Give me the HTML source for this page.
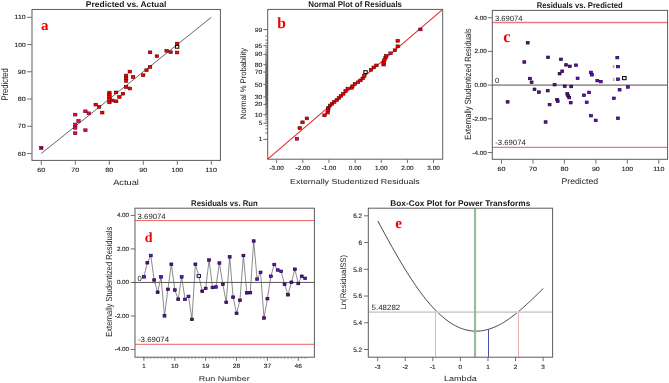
<!DOCTYPE html>
<html><head><meta charset="utf-8"><style>
html,body{margin:0;padding:0;background:#fff;}
svg{display:block;will-change:transform;}
svg{font-family:"Liberation Sans", sans-serif;}
</style></head><body>
<svg width="669" height="383" viewBox="0 0 669 383" text-rendering="geometricPrecision">
<rect width="669" height="383" fill="#fff"/>
<text x="126.10" y="7.00" font-size="8.2" text-anchor="middle" fill="#1a1a1a" font-weight="bold" textLength="80.5" lengthAdjust="spacingAndGlyphs">Predicted vs. Actual</text>
<rect x="32.00" y="9.45" width="188.40" height="150.95" fill="none" stroke="#5c5c5c" stroke-width="1"/>
<line x1="41.30" y1="160.40" x2="41.30" y2="164.80" stroke="#707070" stroke-width="1"/>
<text x="41.30" y="172.10" font-size="6.0" text-anchor="middle" fill="#1e1e1e" textLength="7.9" lengthAdjust="spacingAndGlyphs" stroke="#1e1e1e" stroke-width="0.12">60</text>
<line x1="27.20" y1="153.50" x2="32.00" y2="153.50" stroke="#707070" stroke-width="1"/>
<text x="25.60" y="155.60" font-size="6.0" text-anchor="end" fill="#1e1e1e" textLength="7.9" lengthAdjust="spacingAndGlyphs" stroke="#1e1e1e" stroke-width="0.12">60</text>
<line x1="75.30" y1="160.40" x2="75.30" y2="164.80" stroke="#707070" stroke-width="1"/>
<text x="75.30" y="172.10" font-size="6.0" text-anchor="middle" fill="#1e1e1e" textLength="7.9" lengthAdjust="spacingAndGlyphs" stroke="#1e1e1e" stroke-width="0.12">70</text>
<line x1="27.20" y1="126.26" x2="32.00" y2="126.26" stroke="#707070" stroke-width="1"/>
<text x="25.60" y="128.36" font-size="6.0" text-anchor="end" fill="#1e1e1e" textLength="7.9" lengthAdjust="spacingAndGlyphs" stroke="#1e1e1e" stroke-width="0.12">70</text>
<line x1="109.30" y1="160.40" x2="109.30" y2="164.80" stroke="#707070" stroke-width="1"/>
<text x="109.30" y="172.10" font-size="6.0" text-anchor="middle" fill="#1e1e1e" textLength="7.9" lengthAdjust="spacingAndGlyphs" stroke="#1e1e1e" stroke-width="0.12">80</text>
<line x1="27.20" y1="99.02" x2="32.00" y2="99.02" stroke="#707070" stroke-width="1"/>
<text x="25.60" y="101.12" font-size="6.0" text-anchor="end" fill="#1e1e1e" textLength="7.9" lengthAdjust="spacingAndGlyphs" stroke="#1e1e1e" stroke-width="0.12">80</text>
<line x1="143.30" y1="160.40" x2="143.30" y2="164.80" stroke="#707070" stroke-width="1"/>
<text x="143.30" y="172.10" font-size="6.0" text-anchor="middle" fill="#1e1e1e" textLength="7.9" lengthAdjust="spacingAndGlyphs" stroke="#1e1e1e" stroke-width="0.12">90</text>
<line x1="27.20" y1="71.78" x2="32.00" y2="71.78" stroke="#707070" stroke-width="1"/>
<text x="25.60" y="73.88" font-size="6.0" text-anchor="end" fill="#1e1e1e" textLength="7.9" lengthAdjust="spacingAndGlyphs" stroke="#1e1e1e" stroke-width="0.12">90</text>
<line x1="177.30" y1="160.40" x2="177.30" y2="164.80" stroke="#707070" stroke-width="1"/>
<text x="177.30" y="172.10" font-size="6.0" text-anchor="middle" fill="#1e1e1e" textLength="11.4" lengthAdjust="spacingAndGlyphs" stroke="#1e1e1e" stroke-width="0.12">100</text>
<line x1="27.20" y1="44.54" x2="32.00" y2="44.54" stroke="#707070" stroke-width="1"/>
<text x="25.60" y="46.64" font-size="6.0" text-anchor="end" fill="#1e1e1e" textLength="11.0" lengthAdjust="spacingAndGlyphs" stroke="#1e1e1e" stroke-width="0.12">100</text>
<line x1="211.30" y1="160.40" x2="211.30" y2="164.80" stroke="#707070" stroke-width="1"/>
<text x="211.30" y="172.10" font-size="6.0" text-anchor="middle" fill="#1e1e1e" textLength="11.4" lengthAdjust="spacingAndGlyphs" stroke="#1e1e1e" stroke-width="0.12">110</text>
<line x1="27.20" y1="17.30" x2="32.00" y2="17.30" stroke="#707070" stroke-width="1"/>
<text x="25.60" y="19.40" font-size="6.0" text-anchor="end" fill="#1e1e1e" textLength="11.0" lengthAdjust="spacingAndGlyphs" stroke="#1e1e1e" stroke-width="0.12">110</text>
<text x="126.05" y="185.00" font-size="7.8" text-anchor="middle" fill="#222" textLength="25.7" lengthAdjust="spacingAndGlyphs">Actual</text>
<text x="8.30" y="84.40" font-size="9.6" text-anchor="middle" fill="#222" textLength="32.3" lengthAdjust="spacingAndGlyphs" transform="rotate(-90 8.30 84.40)">Predicted</text>
<line x1="41.30" y1="153.50" x2="211.30" y2="17.30" stroke="#555" stroke-width="0.9"/>
<text x="41.0" y="30.3" font-size="15" font-weight="bold" fill="#f00000" style='font-family:"Liberation Serif", serif'>a</text>
<rect x="39.60" y="146.50" width="3.4" height="2.8" fill="#80007a" stroke="#5a0000" stroke-width="0.6"/>
<rect x="73.50" y="113.20" width="3.4" height="2.8" fill="#f0006c" stroke="#5a0000" stroke-width="0.6"/>
<rect x="73.50" y="123.10" width="3.4" height="2.8" fill="#f0006c" stroke="#5a0000" stroke-width="0.6"/>
<rect x="73.50" y="126.40" width="3.4" height="2.8" fill="#f0006c" stroke="#5a0000" stroke-width="0.6"/>
<rect x="73.50" y="131.80" width="3.4" height="2.8" fill="#f0006c" stroke="#5a0000" stroke-width="0.6"/>
<rect x="76.80" y="119.60" width="3.4" height="2.8" fill="#f0006c" stroke="#5a0000" stroke-width="0.6"/>
<rect x="83.70" y="109.90" width="3.4" height="2.8" fill="#f0006c" stroke="#5a0000" stroke-width="0.6"/>
<rect x="87.10" y="111.90" width="3.4" height="2.8" fill="#f0006c" stroke="#5a0000" stroke-width="0.6"/>
<rect x="83.70" y="128.80" width="3.4" height="2.8" fill="#f0006c" stroke="#5a0000" stroke-width="0.6"/>
<rect x="94.00" y="103.20" width="3.4" height="2.8" fill="#f20000" stroke="#5a0000" stroke-width="0.6"/>
<rect x="97.40" y="105.50" width="3.4" height="2.8" fill="#f20000" stroke="#5a0000" stroke-width="0.6"/>
<rect x="100.60" y="111.20" width="3.4" height="2.8" fill="#f20000" stroke="#5a0000" stroke-width="0.6"/>
<rect x="107.70" y="91.20" width="3.4" height="2.8" fill="#f20000" stroke="#5a0000" stroke-width="0.6"/>
<rect x="107.70" y="93.30" width="3.4" height="2.8" fill="#f20000" stroke="#5a0000" stroke-width="0.6"/>
<rect x="107.70" y="95.50" width="3.4" height="2.8" fill="#f20000" stroke="#5a0000" stroke-width="0.6"/>
<rect x="107.70" y="97.60" width="3.4" height="2.8" fill="#f20000" stroke="#5a0000" stroke-width="0.6"/>
<rect x="107.70" y="101.00" width="3.4" height="2.8" fill="#f20000" stroke="#5a0000" stroke-width="0.6"/>
<rect x="110.70" y="99.10" width="3.4" height="2.8" fill="#f20000" stroke="#5a0000" stroke-width="0.6"/>
<rect x="114.30" y="91.00" width="3.4" height="2.8" fill="#f20000" stroke="#5a0000" stroke-width="0.6"/>
<rect x="114.50" y="99.90" width="3.4" height="2.8" fill="#f20000" stroke="#5a0000" stroke-width="0.6"/>
<rect x="117.70" y="95.60" width="3.4" height="2.8" fill="#f20000" stroke="#5a0000" stroke-width="0.6"/>
<rect x="121.20" y="92.30" width="3.4" height="2.8" fill="#f20000" stroke="#5a0000" stroke-width="0.6"/>
<rect x="124.40" y="74.10" width="3.4" height="2.8" fill="#f20000" stroke="#5a0000" stroke-width="0.6"/>
<rect x="124.40" y="77.00" width="3.4" height="2.8" fill="#f20000" stroke="#5a0000" stroke-width="0.6"/>
<rect x="124.40" y="79.50" width="3.4" height="2.8" fill="#f20000" stroke="#5a0000" stroke-width="0.6"/>
<rect x="124.40" y="85.60" width="3.4" height="2.8" fill="#f20000" stroke="#5a0000" stroke-width="0.6"/>
<rect x="128.10" y="70.20" width="3.4" height="2.8" fill="#f20000" stroke="#5a0000" stroke-width="0.6"/>
<rect x="128.10" y="87.10" width="3.4" height="2.8" fill="#f20000" stroke="#5a0000" stroke-width="0.6"/>
<rect x="131.40" y="75.60" width="3.4" height="2.8" fill="#f20000" stroke="#5a0000" stroke-width="0.6"/>
<rect x="141.50" y="73.80" width="3.4" height="2.8" fill="#f20000" stroke="#5a0000" stroke-width="0.6"/>
<rect x="144.80" y="68.80" width="3.4" height="2.8" fill="#f20000" stroke="#5a0000" stroke-width="0.6"/>
<rect x="148.40" y="65.60" width="3.4" height="2.8" fill="#f20000" stroke="#5a0000" stroke-width="0.6"/>
<rect x="148.40" y="50.90" width="3.4" height="2.8" fill="#f20000" stroke="#5a0000" stroke-width="0.6"/>
<rect x="155.20" y="54.80" width="3.4" height="2.8" fill="#f20000" stroke="#5a0000" stroke-width="0.6"/>
<rect x="164.90" y="49.40" width="3.4" height="2.8" fill="#f20000" stroke="#5a0000" stroke-width="0.6"/>
<rect x="168.90" y="50.80" width="3.4" height="2.8" fill="#f20000" stroke="#5a0000" stroke-width="0.6"/>
<rect x="175.40" y="42.20" width="3.4" height="2.8" fill="#f20000" stroke="#5a0000" stroke-width="0.6"/>
<rect x="175.40" y="51.10" width="3.4" height="2.8" fill="#f20000" stroke="#5a0000" stroke-width="0.6"/>
<rect x="175.40" y="45.40" width="3.4" height="2.8" fill="#fff" stroke="#000" stroke-width="1.0"/>
<text x="355.10" y="6.70" font-size="8.2" text-anchor="middle" fill="#1a1a1a" font-weight="bold" textLength="93.8" lengthAdjust="spacingAndGlyphs">Normal Plot of Residuals</text>
<rect x="267.70" y="9.40" width="175.00" height="149.80" fill="none" stroke="#5c5c5c" stroke-width="1"/>
<line x1="276.65" y1="159.20" x2="276.65" y2="163.00" stroke="#707070" stroke-width="1"/>
<text x="276.65" y="170.00" font-size="6.0" text-anchor="middle" fill="#1e1e1e" textLength="14.5" lengthAdjust="spacingAndGlyphs" stroke="#1e1e1e" stroke-width="0.12">-3.00</text>
<line x1="302.80" y1="159.20" x2="302.80" y2="163.00" stroke="#707070" stroke-width="1"/>
<text x="302.80" y="170.00" font-size="6.0" text-anchor="middle" fill="#1e1e1e" textLength="14.5" lengthAdjust="spacingAndGlyphs" stroke="#1e1e1e" stroke-width="0.12">-2.00</text>
<line x1="328.95" y1="159.20" x2="328.95" y2="163.00" stroke="#707070" stroke-width="1"/>
<text x="328.95" y="170.00" font-size="6.0" text-anchor="middle" fill="#1e1e1e" textLength="14.5" lengthAdjust="spacingAndGlyphs" stroke="#1e1e1e" stroke-width="0.12">-1.00</text>
<line x1="355.10" y1="159.20" x2="355.10" y2="163.00" stroke="#707070" stroke-width="1"/>
<text x="355.10" y="170.00" font-size="6.0" text-anchor="middle" fill="#1e1e1e" textLength="12.5" lengthAdjust="spacingAndGlyphs" stroke="#1e1e1e" stroke-width="0.12">0.00</text>
<line x1="381.25" y1="159.20" x2="381.25" y2="163.00" stroke="#707070" stroke-width="1"/>
<text x="381.25" y="170.00" font-size="6.0" text-anchor="middle" fill="#1e1e1e" textLength="12.5" lengthAdjust="spacingAndGlyphs" stroke="#1e1e1e" stroke-width="0.12">1.00</text>
<line x1="407.40" y1="159.20" x2="407.40" y2="163.00" stroke="#707070" stroke-width="1"/>
<text x="407.40" y="170.00" font-size="6.0" text-anchor="middle" fill="#1e1e1e" textLength="12.5" lengthAdjust="spacingAndGlyphs" stroke="#1e1e1e" stroke-width="0.12">2.00</text>
<line x1="433.55" y1="159.20" x2="433.55" y2="163.00" stroke="#707070" stroke-width="1"/>
<text x="433.55" y="170.00" font-size="6.0" text-anchor="middle" fill="#1e1e1e" textLength="12.5" lengthAdjust="spacingAndGlyphs" stroke="#1e1e1e" stroke-width="0.12">3.00</text>
<line x1="265.30" y1="139.40" x2="267.70" y2="139.40" stroke="#444" stroke-width="0.75"/>
<line x1="265.30" y1="132.97" x2="267.70" y2="132.97" stroke="#444" stroke-width="0.75"/>
<line x1="265.30" y1="128.89" x2="267.70" y2="128.89" stroke="#444" stroke-width="0.75"/>
<line x1="265.30" y1="125.82" x2="267.70" y2="125.82" stroke="#444" stroke-width="0.75"/>
<line x1="265.30" y1="123.32" x2="267.70" y2="123.32" stroke="#444" stroke-width="0.75"/>
<line x1="265.30" y1="121.19" x2="267.70" y2="121.19" stroke="#444" stroke-width="0.75"/>
<line x1="265.30" y1="119.33" x2="267.70" y2="119.33" stroke="#444" stroke-width="0.75"/>
<line x1="265.30" y1="117.66" x2="267.70" y2="117.66" stroke="#444" stroke-width="0.75"/>
<line x1="265.30" y1="116.14" x2="267.70" y2="116.14" stroke="#444" stroke-width="0.75"/>
<line x1="265.30" y1="114.74" x2="267.70" y2="114.74" stroke="#444" stroke-width="0.75"/>
<line x1="265.30" y1="113.45" x2="267.70" y2="113.45" stroke="#444" stroke-width="0.75"/>
<line x1="265.30" y1="112.23" x2="267.70" y2="112.23" stroke="#444" stroke-width="0.75"/>
<line x1="265.30" y1="111.08" x2="267.70" y2="111.08" stroke="#444" stroke-width="0.75"/>
<line x1="265.30" y1="110.00" x2="267.70" y2="110.00" stroke="#444" stroke-width="0.75"/>
<line x1="265.30" y1="108.96" x2="267.70" y2="108.96" stroke="#444" stroke-width="0.75"/>
<line x1="265.30" y1="107.97" x2="267.70" y2="107.97" stroke="#444" stroke-width="0.75"/>
<line x1="265.30" y1="107.02" x2="267.70" y2="107.02" stroke="#444" stroke-width="0.75"/>
<line x1="265.30" y1="106.10" x2="267.70" y2="106.10" stroke="#444" stroke-width="0.75"/>
<line x1="265.30" y1="105.22" x2="267.70" y2="105.22" stroke="#444" stroke-width="0.75"/>
<line x1="265.30" y1="104.36" x2="267.70" y2="104.36" stroke="#444" stroke-width="0.75"/>
<line x1="265.30" y1="103.53" x2="267.70" y2="103.53" stroke="#444" stroke-width="0.75"/>
<line x1="265.30" y1="102.72" x2="267.70" y2="102.72" stroke="#444" stroke-width="0.75"/>
<line x1="265.30" y1="101.94" x2="267.70" y2="101.94" stroke="#444" stroke-width="0.75"/>
<line x1="265.30" y1="101.17" x2="267.70" y2="101.17" stroke="#444" stroke-width="0.75"/>
<line x1="265.30" y1="100.42" x2="267.70" y2="100.42" stroke="#444" stroke-width="0.75"/>
<line x1="265.30" y1="99.68" x2="267.70" y2="99.68" stroke="#444" stroke-width="0.75"/>
<line x1="265.30" y1="98.96" x2="267.70" y2="98.96" stroke="#444" stroke-width="0.75"/>
<line x1="265.30" y1="98.26" x2="267.70" y2="98.26" stroke="#444" stroke-width="0.75"/>
<line x1="265.30" y1="97.56" x2="267.70" y2="97.56" stroke="#444" stroke-width="0.75"/>
<line x1="265.30" y1="96.88" x2="267.70" y2="96.88" stroke="#444" stroke-width="0.75"/>
<line x1="265.30" y1="96.20" x2="267.70" y2="96.20" stroke="#444" stroke-width="0.75"/>
<line x1="265.30" y1="95.54" x2="267.70" y2="95.54" stroke="#444" stroke-width="0.75"/>
<line x1="265.30" y1="94.88" x2="267.70" y2="94.88" stroke="#444" stroke-width="0.75"/>
<line x1="265.30" y1="94.23" x2="267.70" y2="94.23" stroke="#444" stroke-width="0.75"/>
<line x1="265.30" y1="93.59" x2="267.70" y2="93.59" stroke="#444" stroke-width="0.75"/>
<line x1="265.30" y1="92.96" x2="267.70" y2="92.96" stroke="#444" stroke-width="0.75"/>
<line x1="265.30" y1="92.33" x2="267.70" y2="92.33" stroke="#444" stroke-width="0.75"/>
<line x1="265.30" y1="91.71" x2="267.70" y2="91.71" stroke="#444" stroke-width="0.75"/>
<line x1="265.30" y1="91.09" x2="267.70" y2="91.09" stroke="#444" stroke-width="0.75"/>
<line x1="265.30" y1="90.48" x2="267.70" y2="90.48" stroke="#444" stroke-width="0.75"/>
<line x1="265.30" y1="89.87" x2="267.70" y2="89.87" stroke="#444" stroke-width="0.75"/>
<line x1="265.30" y1="89.26" x2="267.70" y2="89.26" stroke="#444" stroke-width="0.75"/>
<line x1="265.30" y1="88.66" x2="267.70" y2="88.66" stroke="#444" stroke-width="0.75"/>
<line x1="265.30" y1="88.06" x2="267.70" y2="88.06" stroke="#444" stroke-width="0.75"/>
<line x1="265.30" y1="87.47" x2="267.70" y2="87.47" stroke="#444" stroke-width="0.75"/>
<line x1="265.30" y1="86.87" x2="267.70" y2="86.87" stroke="#444" stroke-width="0.75"/>
<line x1="265.30" y1="86.28" x2="267.70" y2="86.28" stroke="#444" stroke-width="0.75"/>
<line x1="265.30" y1="85.68" x2="267.70" y2="85.68" stroke="#444" stroke-width="0.75"/>
<line x1="265.30" y1="85.09" x2="267.70" y2="85.09" stroke="#444" stroke-width="0.75"/>
<line x1="265.30" y1="84.50" x2="267.70" y2="84.50" stroke="#444" stroke-width="0.75"/>
<line x1="265.30" y1="83.91" x2="267.70" y2="83.91" stroke="#444" stroke-width="0.75"/>
<line x1="265.30" y1="83.32" x2="267.70" y2="83.32" stroke="#444" stroke-width="0.75"/>
<line x1="265.30" y1="82.72" x2="267.70" y2="82.72" stroke="#444" stroke-width="0.75"/>
<line x1="265.30" y1="82.13" x2="267.70" y2="82.13" stroke="#444" stroke-width="0.75"/>
<line x1="265.30" y1="81.53" x2="267.70" y2="81.53" stroke="#444" stroke-width="0.75"/>
<line x1="265.30" y1="80.94" x2="267.70" y2="80.94" stroke="#444" stroke-width="0.75"/>
<line x1="265.30" y1="80.34" x2="267.70" y2="80.34" stroke="#444" stroke-width="0.75"/>
<line x1="265.30" y1="79.74" x2="267.70" y2="79.74" stroke="#444" stroke-width="0.75"/>
<line x1="265.30" y1="79.13" x2="267.70" y2="79.13" stroke="#444" stroke-width="0.75"/>
<line x1="265.30" y1="78.52" x2="267.70" y2="78.52" stroke="#444" stroke-width="0.75"/>
<line x1="265.30" y1="77.91" x2="267.70" y2="77.91" stroke="#444" stroke-width="0.75"/>
<line x1="265.30" y1="77.29" x2="267.70" y2="77.29" stroke="#444" stroke-width="0.75"/>
<line x1="265.30" y1="76.67" x2="267.70" y2="76.67" stroke="#444" stroke-width="0.75"/>
<line x1="265.30" y1="76.04" x2="267.70" y2="76.04" stroke="#444" stroke-width="0.75"/>
<line x1="265.30" y1="75.41" x2="267.70" y2="75.41" stroke="#444" stroke-width="0.75"/>
<line x1="265.30" y1="74.77" x2="267.70" y2="74.77" stroke="#444" stroke-width="0.75"/>
<line x1="265.30" y1="74.12" x2="267.70" y2="74.12" stroke="#444" stroke-width="0.75"/>
<line x1="265.30" y1="73.46" x2="267.70" y2="73.46" stroke="#444" stroke-width="0.75"/>
<line x1="265.30" y1="72.80" x2="267.70" y2="72.80" stroke="#444" stroke-width="0.75"/>
<line x1="265.30" y1="72.12" x2="267.70" y2="72.12" stroke="#444" stroke-width="0.75"/>
<line x1="265.30" y1="71.44" x2="267.70" y2="71.44" stroke="#444" stroke-width="0.75"/>
<line x1="265.30" y1="70.74" x2="267.70" y2="70.74" stroke="#444" stroke-width="0.75"/>
<line x1="265.30" y1="70.04" x2="267.70" y2="70.04" stroke="#444" stroke-width="0.75"/>
<line x1="265.30" y1="69.32" x2="267.70" y2="69.32" stroke="#444" stroke-width="0.75"/>
<line x1="265.30" y1="68.58" x2="267.70" y2="68.58" stroke="#444" stroke-width="0.75"/>
<line x1="265.30" y1="67.83" x2="267.70" y2="67.83" stroke="#444" stroke-width="0.75"/>
<line x1="265.30" y1="67.06" x2="267.70" y2="67.06" stroke="#444" stroke-width="0.75"/>
<line x1="265.30" y1="66.28" x2="267.70" y2="66.28" stroke="#444" stroke-width="0.75"/>
<line x1="265.30" y1="65.47" x2="267.70" y2="65.47" stroke="#444" stroke-width="0.75"/>
<line x1="265.30" y1="64.64" x2="267.70" y2="64.64" stroke="#444" stroke-width="0.75"/>
<line x1="265.30" y1="63.78" x2="267.70" y2="63.78" stroke="#444" stroke-width="0.75"/>
<line x1="265.30" y1="62.90" x2="267.70" y2="62.90" stroke="#444" stroke-width="0.75"/>
<line x1="265.30" y1="61.98" x2="267.70" y2="61.98" stroke="#444" stroke-width="0.75"/>
<line x1="265.30" y1="61.03" x2="267.70" y2="61.03" stroke="#444" stroke-width="0.75"/>
<line x1="265.30" y1="60.04" x2="267.70" y2="60.04" stroke="#444" stroke-width="0.75"/>
<line x1="265.30" y1="59.00" x2="267.70" y2="59.00" stroke="#444" stroke-width="0.75"/>
<line x1="265.30" y1="57.92" x2="267.70" y2="57.92" stroke="#444" stroke-width="0.75"/>
<line x1="265.30" y1="56.77" x2="267.70" y2="56.77" stroke="#444" stroke-width="0.75"/>
<line x1="265.30" y1="55.55" x2="267.70" y2="55.55" stroke="#444" stroke-width="0.75"/>
<line x1="265.30" y1="54.26" x2="267.70" y2="54.26" stroke="#444" stroke-width="0.75"/>
<line x1="265.30" y1="52.86" x2="267.70" y2="52.86" stroke="#444" stroke-width="0.75"/>
<line x1="265.30" y1="51.34" x2="267.70" y2="51.34" stroke="#444" stroke-width="0.75"/>
<line x1="265.30" y1="49.67" x2="267.70" y2="49.67" stroke="#444" stroke-width="0.75"/>
<line x1="265.30" y1="47.81" x2="267.70" y2="47.81" stroke="#444" stroke-width="0.75"/>
<line x1="265.30" y1="45.68" x2="267.70" y2="45.68" stroke="#444" stroke-width="0.75"/>
<line x1="265.30" y1="43.18" x2="267.70" y2="43.18" stroke="#444" stroke-width="0.75"/>
<line x1="265.30" y1="40.11" x2="267.70" y2="40.11" stroke="#444" stroke-width="0.75"/>
<line x1="265.30" y1="36.03" x2="267.70" y2="36.03" stroke="#444" stroke-width="0.75"/>
<line x1="265.30" y1="29.60" x2="267.70" y2="29.60" stroke="#444" stroke-width="0.75"/>
<line x1="263.40" y1="139.40" x2="267.70" y2="139.40" stroke="#707070" stroke-width="1"/>
<text x="262.30" y="141.40" font-size="6.0" text-anchor="end" fill="#1e1e1e" textLength="3.6" lengthAdjust="spacingAndGlyphs" stroke="#1e1e1e" stroke-width="0.12">1</text>
<line x1="263.40" y1="123.32" x2="267.70" y2="123.32" stroke="#707070" stroke-width="1"/>
<text x="262.30" y="125.32" font-size="6.0" text-anchor="end" fill="#1e1e1e" textLength="3.6" lengthAdjust="spacingAndGlyphs" stroke="#1e1e1e" stroke-width="0.12">5</text>
<line x1="263.40" y1="114.74" x2="267.70" y2="114.74" stroke="#707070" stroke-width="1"/>
<text x="262.30" y="116.74" font-size="6.0" text-anchor="end" fill="#1e1e1e" textLength="7.6" lengthAdjust="spacingAndGlyphs" stroke="#1e1e1e" stroke-width="0.12">10</text>
<line x1="263.40" y1="104.36" x2="267.70" y2="104.36" stroke="#707070" stroke-width="1"/>
<text x="262.30" y="106.36" font-size="6.0" text-anchor="end" fill="#1e1e1e" textLength="7.6" lengthAdjust="spacingAndGlyphs" stroke="#1e1e1e" stroke-width="0.12">20</text>
<line x1="263.40" y1="96.88" x2="267.70" y2="96.88" stroke="#707070" stroke-width="1"/>
<text x="262.30" y="98.88" font-size="6.0" text-anchor="end" fill="#1e1e1e" textLength="7.6" lengthAdjust="spacingAndGlyphs" stroke="#1e1e1e" stroke-width="0.12">30</text>
<line x1="263.40" y1="84.50" x2="267.70" y2="84.50" stroke="#707070" stroke-width="1"/>
<text x="262.30" y="86.50" font-size="6.0" text-anchor="end" fill="#1e1e1e" textLength="7.6" lengthAdjust="spacingAndGlyphs" stroke="#1e1e1e" stroke-width="0.12">50</text>
<line x1="263.40" y1="72.12" x2="267.70" y2="72.12" stroke="#707070" stroke-width="1"/>
<text x="262.30" y="74.12" font-size="6.0" text-anchor="end" fill="#1e1e1e" textLength="7.6" lengthAdjust="spacingAndGlyphs" stroke="#1e1e1e" stroke-width="0.12">70</text>
<line x1="263.40" y1="64.64" x2="267.70" y2="64.64" stroke="#707070" stroke-width="1"/>
<text x="262.30" y="66.64" font-size="6.0" text-anchor="end" fill="#1e1e1e" textLength="7.6" lengthAdjust="spacingAndGlyphs" stroke="#1e1e1e" stroke-width="0.12">80</text>
<line x1="263.40" y1="54.26" x2="267.70" y2="54.26" stroke="#707070" stroke-width="1"/>
<text x="262.30" y="56.26" font-size="6.0" text-anchor="end" fill="#1e1e1e" textLength="7.6" lengthAdjust="spacingAndGlyphs" stroke="#1e1e1e" stroke-width="0.12">90</text>
<line x1="263.40" y1="45.68" x2="267.70" y2="45.68" stroke="#707070" stroke-width="1"/>
<text x="262.30" y="47.68" font-size="6.0" text-anchor="end" fill="#1e1e1e" textLength="7.6" lengthAdjust="spacingAndGlyphs" stroke="#1e1e1e" stroke-width="0.12">95</text>
<line x1="263.40" y1="29.60" x2="267.70" y2="29.60" stroke="#707070" stroke-width="1"/>
<text x="262.30" y="31.60" font-size="6.0" text-anchor="end" fill="#1e1e1e" textLength="7.6" lengthAdjust="spacingAndGlyphs" stroke="#1e1e1e" stroke-width="0.12">99</text>
<text x="354.95" y="183.60" font-size="7.3" text-anchor="middle" fill="#222" textLength="129.7" lengthAdjust="spacingAndGlyphs">Externally Studentized Residuals</text>
<text x="245.60" y="83.40" font-size="8.1" text-anchor="middle" fill="#222" textLength="71.0" lengthAdjust="spacingAndGlyphs" transform="rotate(-90 245.60 83.40)">Normal % Probability</text>
<line x1="267.70" y1="159.20" x2="442.70" y2="9.40" stroke="#e82828" stroke-width="1.1"/>
<text x="277.2" y="27.8" font-size="15.5" font-weight="bold" fill="#f00000" style='font-family:"Liberation Serif", serif'>b</text>
<rect x="295.30" y="137.40" width="3.4" height="2.8" fill="#f0006c" stroke="#5a0000" stroke-width="0.6"/>
<rect x="298.00" y="126.70" width="3.4" height="2.8" fill="#f20000" stroke="#5a0000" stroke-width="0.6"/>
<rect x="300.80" y="120.90" width="3.4" height="2.8" fill="#f20000" stroke="#5a0000" stroke-width="0.6"/>
<rect x="305.20" y="117.00" width="3.4" height="2.8" fill="#f20000" stroke="#5a0000" stroke-width="0.6"/>
<rect x="322.80" y="113.90" width="3.4" height="2.8" fill="#f20000" stroke="#5a0000" stroke-width="0.6"/>
<rect x="325.90" y="111.20" width="3.4" height="2.8" fill="#f20000" stroke="#5a0000" stroke-width="0.6"/>
<rect x="326.40" y="108.70" width="3.4" height="2.8" fill="#f20000" stroke="#5a0000" stroke-width="0.6"/>
<rect x="326.70" y="106.50" width="3.4" height="2.8" fill="#a00050" stroke="#5a0000" stroke-width="0.6"/>
<rect x="328.30" y="104.10" width="3.4" height="2.8" fill="#f20000" stroke="#5a0000" stroke-width="0.6"/>
<rect x="330.30" y="102.40" width="3.4" height="2.8" fill="#f20000" stroke="#5a0000" stroke-width="0.6"/>
<rect x="332.50" y="100.50" width="3.4" height="2.8" fill="#f20000" stroke="#5a0000" stroke-width="0.6"/>
<rect x="335.00" y="98.70" width="3.4" height="2.8" fill="#f20000" stroke="#5a0000" stroke-width="0.6"/>
<rect x="337.20" y="96.60" width="3.4" height="2.8" fill="#f20000" stroke="#5a0000" stroke-width="0.6"/>
<rect x="339.20" y="94.60" width="3.4" height="2.8" fill="#f20000" stroke="#5a0000" stroke-width="0.6"/>
<rect x="341.60" y="92.40" width="3.4" height="2.8" fill="#f20000" stroke="#5a0000" stroke-width="0.6"/>
<rect x="343.90" y="89.60" width="3.4" height="2.8" fill="#f20000" stroke="#5a0000" stroke-width="0.6"/>
<rect x="346.00" y="87.20" width="3.4" height="2.8" fill="#f20000" stroke="#5a0000" stroke-width="0.6"/>
<rect x="350.10" y="86.40" width="3.4" height="2.8" fill="#f20000" stroke="#5a0000" stroke-width="0.6"/>
<rect x="350.80" y="84.80" width="3.4" height="2.8" fill="#f20000" stroke="#5a0000" stroke-width="0.6"/>
<rect x="353.20" y="82.50" width="3.4" height="2.8" fill="#f20000" stroke="#5a0000" stroke-width="0.6"/>
<rect x="356.30" y="80.90" width="3.4" height="2.8" fill="#f0006c" stroke="#5a0000" stroke-width="0.6"/>
<rect x="358.70" y="79.00" width="3.4" height="2.8" fill="#f20000" stroke="#5a0000" stroke-width="0.6"/>
<rect x="361.00" y="77.00" width="3.4" height="2.8" fill="#f20000" stroke="#5a0000" stroke-width="0.6"/>
<rect x="362.60" y="74.60" width="3.4" height="2.8" fill="#f20000" stroke="#5a0000" stroke-width="0.6"/>
<rect x="369.30" y="68.40" width="3.4" height="2.8" fill="#f20000" stroke="#5a0000" stroke-width="0.6"/>
<rect x="372.00" y="66.00" width="3.4" height="2.8" fill="#f20000" stroke="#5a0000" stroke-width="0.6"/>
<rect x="374.70" y="64.00" width="3.4" height="2.8" fill="#f20000" stroke="#5a0000" stroke-width="0.6"/>
<rect x="381.90" y="63.20" width="3.4" height="2.8" fill="#f20000" stroke="#5a0000" stroke-width="0.6"/>
<rect x="381.90" y="61.30" width="3.4" height="2.8" fill="#f20000" stroke="#5a0000" stroke-width="0.6"/>
<rect x="382.70" y="58.70" width="3.4" height="2.8" fill="#f20000" stroke="#5a0000" stroke-width="0.6"/>
<rect x="383.80" y="56.20" width="3.4" height="2.8" fill="#f20000" stroke="#5a0000" stroke-width="0.6"/>
<rect x="384.50" y="54.30" width="3.4" height="2.8" fill="#f20000" stroke="#5a0000" stroke-width="0.6"/>
<rect x="388.80" y="51.90" width="3.4" height="2.8" fill="#f0006c" stroke="#5a0000" stroke-width="0.6"/>
<rect x="393.20" y="48.80" width="3.4" height="2.8" fill="#f20000" stroke="#5a0000" stroke-width="0.6"/>
<rect x="396.00" y="44.90" width="3.4" height="2.8" fill="#f20000" stroke="#5a0000" stroke-width="0.6"/>
<rect x="396.00" y="39.40" width="3.4" height="2.8" fill="#f20000" stroke="#5a0000" stroke-width="0.6"/>
<rect x="418.70" y="28.00" width="3.4" height="2.8" fill="#c00070" stroke="#5a0000" stroke-width="0.6"/>
<rect x="363.80" y="70.70" width="3.4" height="2.8" fill="#fff" stroke="#000" stroke-width="1.0"/>
<text x="579.70" y="7.50" font-size="8.2" text-anchor="middle" fill="#1a1a1a" font-weight="bold" textLength="86" lengthAdjust="spacingAndGlyphs">Residuals vs. Predicted</text>
<line x1="501.50" y1="159.30" x2="501.50" y2="163.70" stroke="#707070" stroke-width="1"/>
<text x="501.50" y="170.80" font-size="6.0" text-anchor="middle" fill="#1e1e1e" textLength="7.9" lengthAdjust="spacingAndGlyphs" stroke="#1e1e1e" stroke-width="0.12">60</text>
<line x1="532.96" y1="159.30" x2="532.96" y2="163.70" stroke="#707070" stroke-width="1"/>
<text x="532.96" y="170.80" font-size="6.0" text-anchor="middle" fill="#1e1e1e" textLength="7.9" lengthAdjust="spacingAndGlyphs" stroke="#1e1e1e" stroke-width="0.12">70</text>
<line x1="564.42" y1="159.30" x2="564.42" y2="163.70" stroke="#707070" stroke-width="1"/>
<text x="564.42" y="170.80" font-size="6.0" text-anchor="middle" fill="#1e1e1e" textLength="7.9" lengthAdjust="spacingAndGlyphs" stroke="#1e1e1e" stroke-width="0.12">80</text>
<line x1="595.88" y1="159.30" x2="595.88" y2="163.70" stroke="#707070" stroke-width="1"/>
<text x="595.88" y="170.80" font-size="6.0" text-anchor="middle" fill="#1e1e1e" textLength="7.9" lengthAdjust="spacingAndGlyphs" stroke="#1e1e1e" stroke-width="0.12">90</text>
<line x1="627.34" y1="159.30" x2="627.34" y2="163.70" stroke="#707070" stroke-width="1"/>
<text x="627.34" y="170.80" font-size="6.0" text-anchor="middle" fill="#1e1e1e" textLength="11.2" lengthAdjust="spacingAndGlyphs" stroke="#1e1e1e" stroke-width="0.12">100</text>
<line x1="658.80" y1="159.30" x2="658.80" y2="163.70" stroke="#707070" stroke-width="1"/>
<text x="658.80" y="170.80" font-size="6.0" text-anchor="middle" fill="#1e1e1e" textLength="11.2" lengthAdjust="spacingAndGlyphs" stroke="#1e1e1e" stroke-width="0.12">110</text>
<line x1="487.80" y1="17.70" x2="492.30" y2="17.70" stroke="#707070" stroke-width="1"/>
<text x="486.70" y="19.70" font-size="6.0" text-anchor="end" fill="#1e1e1e" textLength="12.2" lengthAdjust="spacingAndGlyphs" stroke="#1e1e1e" stroke-width="0.12">4.00</text>
<line x1="487.80" y1="51.40" x2="492.30" y2="51.40" stroke="#707070" stroke-width="1"/>
<text x="486.70" y="53.40" font-size="6.0" text-anchor="end" fill="#1e1e1e" textLength="12.2" lengthAdjust="spacingAndGlyphs" stroke="#1e1e1e" stroke-width="0.12">2.00</text>
<line x1="487.80" y1="85.10" x2="492.30" y2="85.10" stroke="#707070" stroke-width="1"/>
<text x="486.70" y="87.10" font-size="6.0" text-anchor="end" fill="#1e1e1e" textLength="12.2" lengthAdjust="spacingAndGlyphs" stroke="#1e1e1e" stroke-width="0.12">0.00</text>
<line x1="487.80" y1="118.80" x2="492.30" y2="118.80" stroke="#707070" stroke-width="1"/>
<text x="486.70" y="120.80" font-size="6.0" text-anchor="end" fill="#1e1e1e" textLength="14.3" lengthAdjust="spacingAndGlyphs" stroke="#1e1e1e" stroke-width="0.12">-2.00</text>
<line x1="487.80" y1="152.50" x2="492.30" y2="152.50" stroke="#707070" stroke-width="1"/>
<text x="486.70" y="154.50" font-size="6.0" text-anchor="end" fill="#1e1e1e" textLength="14.3" lengthAdjust="spacingAndGlyphs" stroke="#1e1e1e" stroke-width="0.12">-4.00</text>
<text x="579.80" y="184.00" font-size="8.3" text-anchor="middle" fill="#222" textLength="36.6" lengthAdjust="spacingAndGlyphs">Predicted</text>
<text x="470.60" y="84.10" font-size="9.0" text-anchor="middle" fill="#222" textLength="111.5" lengthAdjust="spacingAndGlyphs" transform="rotate(-90 470.60 84.10)">Externally Studentized Residuals</text>
<line x1="492.30" y1="22.51" x2="667.60" y2="22.51" stroke="#f07878" stroke-width="1.3"/>
<line x1="492.30" y1="147.29" x2="667.60" y2="147.29" stroke="#f07878" stroke-width="1.3"/>
<line x1="492.30" y1="85.10" x2="667.60" y2="85.10" stroke="#999" stroke-width="1.6"/>
<text x="494.90" y="20.70" font-size="7.6" text-anchor="start" fill="#222" textLength="27.7" lengthAdjust="spacingAndGlyphs">3.69074</text>
<text x="495.30" y="144.80" font-size="7.6" text-anchor="start" fill="#222" textLength="30.4" lengthAdjust="spacingAndGlyphs">-3.69074</text>
<text x="494.90" y="82.70" font-size="7.6" text-anchor="start" fill="#222">0</text>
<rect x="492.30" y="10.40" width="175.30" height="148.90" fill="none" stroke="#5c5c5c" stroke-width="1"/>
<text x="503.2" y="41.9" font-size="16.5" font-weight="bold" fill="#f00000" style='font-family:"Liberation Serif", serif'>c</text>
<rect x="506.15" y="100.65" width="2.9" height="2.5" fill="#5e1282" stroke="#200040" stroke-width="0.7"/>
<rect x="522.85" y="60.75" width="2.9" height="2.5" fill="#5e1282" stroke="#200040" stroke-width="0.7"/>
<rect x="526.25" y="41.55" width="2.9" height="2.5" fill="#5e1282" stroke="#200040" stroke-width="0.7"/>
<rect x="528.45" y="77.25" width="2.9" height="2.5" fill="#5e1282" stroke="#200040" stroke-width="0.7"/>
<rect x="530.15" y="80.95" width="2.9" height="2.5" fill="#5e1282" stroke="#200040" stroke-width="0.7"/>
<rect x="533.05" y="88.05" width="2.9" height="2.5" fill="#5e1282" stroke="#200040" stroke-width="0.7"/>
<rect x="537.45" y="90.85" width="2.9" height="2.5" fill="#5e1282" stroke="#200040" stroke-width="0.7"/>
<rect x="544.15" y="120.75" width="2.9" height="2.5" fill="#5e1282" stroke="#200040" stroke-width="0.7"/>
<rect x="546.25" y="89.45" width="2.9" height="2.5" fill="#5e1282" stroke="#200040" stroke-width="0.7"/>
<rect x="546.65" y="56.05" width="2.9" height="2.5" fill="#5e1282" stroke="#200040" stroke-width="0.7"/>
<rect x="548.15" y="103.35" width="2.9" height="2.5" fill="#5e1282" stroke="#200040" stroke-width="0.7"/>
<rect x="553.15" y="83.45" width="2.9" height="2.5" fill="#5e1282" stroke="#200040" stroke-width="0.7"/>
<rect x="555.65" y="98.35" width="2.9" height="2.5" fill="#5e1282" stroke="#200040" stroke-width="0.7"/>
<rect x="556.25" y="99.95" width="2.9" height="2.5" fill="#5e1282" stroke="#200040" stroke-width="0.7"/>
<rect x="558.15" y="72.45" width="2.9" height="2.5" fill="#5e1282" stroke="#200040" stroke-width="0.7"/>
<rect x="559.55" y="58.05" width="2.9" height="2.5" fill="#5e1282" stroke="#200040" stroke-width="0.7"/>
<rect x="560.75" y="69.95" width="2.9" height="2.5" fill="#5e1282" stroke="#200040" stroke-width="0.7"/>
<rect x="563.25" y="84.95" width="2.9" height="2.5" fill="#5e1282" stroke="#200040" stroke-width="0.7"/>
<rect x="564.65" y="63.65" width="2.9" height="2.5" fill="#5e1282" stroke="#200040" stroke-width="0.7"/>
<rect x="565.85" y="92.55" width="2.9" height="2.5" fill="#5e1282" stroke="#200040" stroke-width="0.7"/>
<rect x="566.65" y="94.45" width="2.9" height="2.5" fill="#5e1282" stroke="#200040" stroke-width="0.7"/>
<rect x="567.75" y="96.35" width="2.9" height="2.5" fill="#5e1282" stroke="#200040" stroke-width="0.7"/>
<rect x="568.35" y="65.05" width="2.9" height="2.5" fill="#5e1282" stroke="#200040" stroke-width="0.7"/>
<rect x="569.25" y="101.45" width="2.9" height="2.5" fill="#5e1282" stroke="#200040" stroke-width="0.7"/>
<rect x="569.75" y="85.25" width="2.9" height="2.5" fill="#5e1282" stroke="#200040" stroke-width="0.7"/>
<rect x="574.45" y="63.95" width="2.9" height="2.5" fill="#6a08e8" stroke="#200040" stroke-width="0.7"/>
<rect x="576.15" y="77.05" width="2.9" height="2.5" fill="#6a08e8" stroke="#200040" stroke-width="0.7"/>
<rect x="582.45" y="93.95" width="2.9" height="2.5" fill="#6a08e8" stroke="#200040" stroke-width="0.7"/>
<rect x="585.25" y="101.05" width="2.9" height="2.5" fill="#6a08e8" stroke="#200040" stroke-width="0.7"/>
<rect x="587.65" y="91.15" width="2.9" height="2.5" fill="#6a08e8" stroke="#200040" stroke-width="0.7"/>
<rect x="589.55" y="71.15" width="2.9" height="2.5" fill="#6a08e8" stroke="#200040" stroke-width="0.7"/>
<rect x="590.45" y="73.55" width="2.9" height="2.5" fill="#6a08e8" stroke="#200040" stroke-width="0.7"/>
<rect x="589.55" y="114.45" width="2.9" height="2.5" fill="#6a08e8" stroke="#200040" stroke-width="0.7"/>
<rect x="594.25" y="119.15" width="2.9" height="2.5" fill="#6a08e8" stroke="#200040" stroke-width="0.7"/>
<rect x="595.85" y="79.35" width="2.9" height="2.5" fill="#6a08e8" stroke="#200040" stroke-width="0.7"/>
<rect x="599.35" y="80.35" width="2.9" height="2.5" fill="#6a08e8" stroke="#200040" stroke-width="0.7"/>
<rect x="612.35" y="97.05" width="2.9" height="2.5" fill="#6a08e8" stroke="#200040" stroke-width="0.7"/>
<rect x="615.85" y="56.35" width="2.9" height="2.5" fill="#6a08e8" stroke="#200040" stroke-width="0.7"/>
<rect x="616.55" y="65.35" width="2.9" height="2.5" fill="#6a08e8" stroke="#200040" stroke-width="0.7"/>
<rect x="616.55" y="77.95" width="2.9" height="2.5" fill="#6a08e8" stroke="#200040" stroke-width="0.7"/>
<rect x="616.55" y="116.95" width="2.9" height="2.5" fill="#6a08e8" stroke="#200040" stroke-width="0.7"/>
<rect x="618.15" y="88.55" width="2.9" height="2.5" fill="#6a08e8" stroke="#200040" stroke-width="0.7"/>
<rect x="626.45" y="85.75" width="2.9" height="2.5" fill="#6a08e8" stroke="#200040" stroke-width="0.7"/>
<rect x="622.50" y="76.55" width="3.6" height="3.1" fill="#f4f4f4" stroke="#111" stroke-width="1.1"/>
<text x="613.50" y="67.80" font-size="3.8" text-anchor="middle" fill="#333">2</text>
<text x="613.50" y="80.60" font-size="3.8" text-anchor="middle" fill="#333">3</text>
<text x="224.40" y="205.70" font-size="8.2" text-anchor="middle" fill="#1a1a1a" font-weight="bold" textLength="66.7" lengthAdjust="spacingAndGlyphs">Residuals vs. Run</text>
<line x1="143.90" y1="357.20" x2="143.90" y2="359.00" stroke="#707070" stroke-width="0.6"/>
<line x1="147.33" y1="357.20" x2="147.33" y2="359.00" stroke="#707070" stroke-width="0.6"/>
<line x1="150.76" y1="357.20" x2="150.76" y2="359.00" stroke="#707070" stroke-width="0.6"/>
<line x1="154.19" y1="357.20" x2="154.19" y2="359.00" stroke="#707070" stroke-width="0.6"/>
<line x1="157.62" y1="357.20" x2="157.62" y2="359.00" stroke="#707070" stroke-width="0.6"/>
<line x1="161.06" y1="357.20" x2="161.06" y2="359.00" stroke="#707070" stroke-width="0.6"/>
<line x1="164.49" y1="357.20" x2="164.49" y2="359.00" stroke="#707070" stroke-width="0.6"/>
<line x1="167.92" y1="357.20" x2="167.92" y2="359.00" stroke="#707070" stroke-width="0.6"/>
<line x1="171.35" y1="357.20" x2="171.35" y2="359.00" stroke="#707070" stroke-width="0.6"/>
<line x1="174.78" y1="357.20" x2="174.78" y2="359.00" stroke="#707070" stroke-width="0.6"/>
<line x1="178.21" y1="357.20" x2="178.21" y2="359.00" stroke="#707070" stroke-width="0.6"/>
<line x1="181.64" y1="357.20" x2="181.64" y2="359.00" stroke="#707070" stroke-width="0.6"/>
<line x1="185.07" y1="357.20" x2="185.07" y2="359.00" stroke="#707070" stroke-width="0.6"/>
<line x1="188.50" y1="357.20" x2="188.50" y2="359.00" stroke="#707070" stroke-width="0.6"/>
<line x1="191.93" y1="357.20" x2="191.93" y2="359.00" stroke="#707070" stroke-width="0.6"/>
<line x1="195.37" y1="357.20" x2="195.37" y2="359.00" stroke="#707070" stroke-width="0.6"/>
<line x1="198.80" y1="357.20" x2="198.80" y2="359.00" stroke="#707070" stroke-width="0.6"/>
<line x1="202.23" y1="357.20" x2="202.23" y2="359.00" stroke="#707070" stroke-width="0.6"/>
<line x1="205.66" y1="357.20" x2="205.66" y2="359.00" stroke="#707070" stroke-width="0.6"/>
<line x1="209.09" y1="357.20" x2="209.09" y2="359.00" stroke="#707070" stroke-width="0.6"/>
<line x1="212.52" y1="357.20" x2="212.52" y2="359.00" stroke="#707070" stroke-width="0.6"/>
<line x1="215.95" y1="357.20" x2="215.95" y2="359.00" stroke="#707070" stroke-width="0.6"/>
<line x1="219.38" y1="357.20" x2="219.38" y2="359.00" stroke="#707070" stroke-width="0.6"/>
<line x1="222.81" y1="357.20" x2="222.81" y2="359.00" stroke="#707070" stroke-width="0.6"/>
<line x1="226.24" y1="357.20" x2="226.24" y2="359.00" stroke="#707070" stroke-width="0.6"/>
<line x1="229.68" y1="357.20" x2="229.68" y2="359.00" stroke="#707070" stroke-width="0.6"/>
<line x1="233.11" y1="357.20" x2="233.11" y2="359.00" stroke="#707070" stroke-width="0.6"/>
<line x1="236.54" y1="357.20" x2="236.54" y2="359.00" stroke="#707070" stroke-width="0.6"/>
<line x1="239.97" y1="357.20" x2="239.97" y2="359.00" stroke="#707070" stroke-width="0.6"/>
<line x1="243.40" y1="357.20" x2="243.40" y2="359.00" stroke="#707070" stroke-width="0.6"/>
<line x1="246.83" y1="357.20" x2="246.83" y2="359.00" stroke="#707070" stroke-width="0.6"/>
<line x1="250.26" y1="357.20" x2="250.26" y2="359.00" stroke="#707070" stroke-width="0.6"/>
<line x1="253.69" y1="357.20" x2="253.69" y2="359.00" stroke="#707070" stroke-width="0.6"/>
<line x1="257.12" y1="357.20" x2="257.12" y2="359.00" stroke="#707070" stroke-width="0.6"/>
<line x1="260.55" y1="357.20" x2="260.55" y2="359.00" stroke="#707070" stroke-width="0.6"/>
<line x1="263.99" y1="357.20" x2="263.99" y2="359.00" stroke="#707070" stroke-width="0.6"/>
<line x1="267.42" y1="357.20" x2="267.42" y2="359.00" stroke="#707070" stroke-width="0.6"/>
<line x1="270.85" y1="357.20" x2="270.85" y2="359.00" stroke="#707070" stroke-width="0.6"/>
<line x1="274.28" y1="357.20" x2="274.28" y2="359.00" stroke="#707070" stroke-width="0.6"/>
<line x1="277.71" y1="357.20" x2="277.71" y2="359.00" stroke="#707070" stroke-width="0.6"/>
<line x1="281.14" y1="357.20" x2="281.14" y2="359.00" stroke="#707070" stroke-width="0.6"/>
<line x1="284.57" y1="357.20" x2="284.57" y2="359.00" stroke="#707070" stroke-width="0.6"/>
<line x1="288.00" y1="357.20" x2="288.00" y2="359.00" stroke="#707070" stroke-width="0.6"/>
<line x1="291.43" y1="357.20" x2="291.43" y2="359.00" stroke="#707070" stroke-width="0.6"/>
<line x1="294.86" y1="357.20" x2="294.86" y2="359.00" stroke="#707070" stroke-width="0.6"/>
<line x1="298.30" y1="357.20" x2="298.30" y2="359.00" stroke="#707070" stroke-width="0.6"/>
<line x1="301.73" y1="357.20" x2="301.73" y2="359.00" stroke="#707070" stroke-width="0.6"/>
<line x1="305.16" y1="357.20" x2="305.16" y2="359.00" stroke="#707070" stroke-width="0.6"/>
<line x1="143.90" y1="357.20" x2="143.90" y2="360.80" stroke="#707070" stroke-width="1"/>
<text x="143.90" y="368.20" font-size="6.0" text-anchor="middle" fill="#1e1e1e" textLength="3.4" lengthAdjust="spacingAndGlyphs" stroke="#1e1e1e" stroke-width="0.12">1</text>
<line x1="174.78" y1="357.20" x2="174.78" y2="360.80" stroke="#707070" stroke-width="1"/>
<text x="174.78" y="368.20" font-size="6.0" text-anchor="middle" fill="#1e1e1e" textLength="7.4" lengthAdjust="spacingAndGlyphs" stroke="#1e1e1e" stroke-width="0.12">10</text>
<line x1="205.66" y1="357.20" x2="205.66" y2="360.80" stroke="#707070" stroke-width="1"/>
<text x="205.66" y="368.20" font-size="6.0" text-anchor="middle" fill="#1e1e1e" textLength="7.4" lengthAdjust="spacingAndGlyphs" stroke="#1e1e1e" stroke-width="0.12">19</text>
<line x1="236.54" y1="357.20" x2="236.54" y2="360.80" stroke="#707070" stroke-width="1"/>
<text x="236.54" y="368.20" font-size="6.0" text-anchor="middle" fill="#1e1e1e" textLength="7.4" lengthAdjust="spacingAndGlyphs" stroke="#1e1e1e" stroke-width="0.12">28</text>
<line x1="267.42" y1="357.20" x2="267.42" y2="360.80" stroke="#707070" stroke-width="1"/>
<text x="267.42" y="368.20" font-size="6.0" text-anchor="middle" fill="#1e1e1e" textLength="7.4" lengthAdjust="spacingAndGlyphs" stroke="#1e1e1e" stroke-width="0.12">37</text>
<line x1="298.30" y1="357.20" x2="298.30" y2="360.80" stroke="#707070" stroke-width="1"/>
<text x="298.30" y="368.20" font-size="6.0" text-anchor="middle" fill="#1e1e1e" textLength="7.4" lengthAdjust="spacingAndGlyphs" stroke="#1e1e1e" stroke-width="0.12">46</text>
<line x1="130.60" y1="215.41" x2="135.00" y2="215.41" stroke="#707070" stroke-width="1"/>
<text x="129.10" y="217.41" font-size="6.0" text-anchor="end" fill="#1e1e1e" textLength="12.2" lengthAdjust="spacingAndGlyphs" stroke="#1e1e1e" stroke-width="0.12">4.00</text>
<line x1="130.60" y1="248.93" x2="135.00" y2="248.93" stroke="#707070" stroke-width="1"/>
<text x="129.10" y="250.93" font-size="6.0" text-anchor="end" fill="#1e1e1e" textLength="12.2" lengthAdjust="spacingAndGlyphs" stroke="#1e1e1e" stroke-width="0.12">2.00</text>
<line x1="130.60" y1="282.45" x2="135.00" y2="282.45" stroke="#707070" stroke-width="1"/>
<text x="129.10" y="284.45" font-size="6.0" text-anchor="end" fill="#1e1e1e" textLength="12.2" lengthAdjust="spacingAndGlyphs" stroke="#1e1e1e" stroke-width="0.12">0.00</text>
<line x1="130.60" y1="315.97" x2="135.00" y2="315.97" stroke="#707070" stroke-width="1"/>
<text x="129.10" y="317.97" font-size="6.0" text-anchor="end" fill="#1e1e1e" textLength="14.3" lengthAdjust="spacingAndGlyphs" stroke="#1e1e1e" stroke-width="0.12">-2.00</text>
<line x1="130.60" y1="349.49" x2="135.00" y2="349.49" stroke="#707070" stroke-width="1"/>
<text x="129.10" y="351.49" font-size="6.0" text-anchor="end" fill="#1e1e1e" textLength="14.3" lengthAdjust="spacingAndGlyphs" stroke="#1e1e1e" stroke-width="0.12">-4.00</text>
<text x="224.30" y="380.80" font-size="7.1" text-anchor="middle" fill="#222" textLength="51.2" lengthAdjust="spacingAndGlyphs">Run Number</text>
<text x="112.50" y="281.70" font-size="8.8" text-anchor="middle" fill="#222" textLength="110" lengthAdjust="spacingAndGlyphs" transform="rotate(-90 112.50 281.70)">Externally Studentized Residuals</text>
<line x1="135.00" y1="220.59" x2="314.40" y2="220.59" stroke="#ec5050" stroke-width="0.9"/>
<line x1="135.00" y1="344.31" x2="314.40" y2="344.31" stroke="#ec5050" stroke-width="0.9"/>
<line x1="133.00" y1="282.45" x2="314.40" y2="282.45" stroke="#444" stroke-width="0.9"/>
<text x="137.60" y="218.80" font-size="7.6" text-anchor="start" fill="#222" textLength="28.1" lengthAdjust="spacingAndGlyphs">3.69074</text>
<text x="138.00" y="342.40" font-size="7.6" text-anchor="start" fill="#222" textLength="31.0" lengthAdjust="spacingAndGlyphs">-3.69074</text>
<text x="137.40" y="280.60" font-size="7.4" text-anchor="start" fill="#222" textLength="4.3" lengthAdjust="spacingAndGlyphs">0</text>
<rect x="135.00" y="208.20" width="179.40" height="149.00" fill="none" stroke="#5c5c5c" stroke-width="1"/>
<text x="144.8" y="242.3" font-size="14" font-weight="bold" fill="#f00000" style='font-family:"Liberation Serif", serif'>d</text>
<polyline points="143.90,276.90 147.33,262.80 150.76,255.50 154.19,280.00 157.62,292.20 161.06,276.90 164.49,315.90 167.92,289.30 171.35,264.20 174.78,290.00 178.21,299.20 181.64,276.90 185.07,299.40 188.50,296.40 191.93,319.40 195.37,264.20 198.80,276.00 202.23,291.20 205.66,288.40 209.09,260.00 212.52,287.50 215.95,287.00 219.38,263.00 222.81,284.20 226.24,302.30 229.68,256.90 233.11,297.10 236.54,313.30 239.97,300.20 243.40,255.50 246.83,292.90 250.26,292.70 253.69,241.00 257.12,279.10 260.55,272.30 263.99,318.00 267.42,298.70 270.85,276.20 274.28,264.50 277.71,270.00 281.14,271.30 284.57,284.30 288.00,294.80 291.43,282.20 294.86,269.20 298.30,283.50 301.73,276.20 305.16,278.30" fill="none" stroke="#5a5a5a" stroke-width="0.7"/>
<rect x="142.45" y="275.65" width="2.9" height="2.5" fill="#6a10e6" stroke="#200040" stroke-width="0.7"/>
<rect x="145.88" y="261.55" width="2.9" height="2.5" fill="#6e1070" stroke="#200040" stroke-width="0.7"/>
<rect x="149.31" y="254.25" width="2.9" height="2.5" fill="#6a10e6" stroke="#200040" stroke-width="0.7"/>
<rect x="152.74" y="278.75" width="2.9" height="2.5" fill="#6e1070" stroke="#200040" stroke-width="0.7"/>
<rect x="156.17" y="290.95" width="2.9" height="2.5" fill="#3c0a58" stroke="#200040" stroke-width="0.7"/>
<rect x="159.61" y="275.65" width="2.9" height="2.5" fill="#6a10e6" stroke="#200040" stroke-width="0.7"/>
<rect x="163.04" y="314.65" width="2.9" height="2.5" fill="#6a10e6" stroke="#200040" stroke-width="0.7"/>
<rect x="166.47" y="288.05" width="2.9" height="2.5" fill="#6e1070" stroke="#200040" stroke-width="0.7"/>
<rect x="169.90" y="262.95" width="2.9" height="2.5" fill="#5a1496" stroke="#200040" stroke-width="0.7"/>
<rect x="173.33" y="288.75" width="2.9" height="2.5" fill="#5a1496" stroke="#200040" stroke-width="0.7"/>
<rect x="176.76" y="297.95" width="2.9" height="2.5" fill="#6e1070" stroke="#200040" stroke-width="0.7"/>
<rect x="180.19" y="275.65" width="2.9" height="2.5" fill="#6a10e6" stroke="#200040" stroke-width="0.7"/>
<rect x="183.62" y="298.15" width="2.9" height="2.5" fill="#6a10e6" stroke="#200040" stroke-width="0.7"/>
<rect x="187.05" y="295.15" width="2.9" height="2.5" fill="#6a10e6" stroke="#200040" stroke-width="0.7"/>
<rect x="190.48" y="318.15" width="2.9" height="2.5" fill="#6e1070" stroke="#200040" stroke-width="0.7"/>
<rect x="193.92" y="262.95" width="2.9" height="2.5" fill="#5a1496" stroke="#200040" stroke-width="0.7"/>
<rect x="197.10" y="274.60" width="3.4" height="2.8" fill="#f0f0f0" stroke="#2a1040" stroke-width="1.0"/>
<rect x="200.78" y="289.95" width="2.9" height="2.5" fill="#3c0a58" stroke="#200040" stroke-width="0.7"/>
<rect x="204.21" y="287.15" width="2.9" height="2.5" fill="#5a1496" stroke="#200040" stroke-width="0.7"/>
<rect x="207.64" y="258.75" width="2.9" height="2.5" fill="#6e1070" stroke="#200040" stroke-width="0.7"/>
<rect x="211.07" y="286.25" width="2.9" height="2.5" fill="#6a10e6" stroke="#200040" stroke-width="0.7"/>
<rect x="214.50" y="285.75" width="2.9" height="2.5" fill="#6a10e6" stroke="#200040" stroke-width="0.7"/>
<rect x="217.93" y="261.75" width="2.9" height="2.5" fill="#5a1496" stroke="#200040" stroke-width="0.7"/>
<rect x="221.36" y="282.95" width="2.9" height="2.5" fill="#5a1496" stroke="#200040" stroke-width="0.7"/>
<rect x="224.79" y="301.05" width="2.9" height="2.5" fill="#6e1070" stroke="#200040" stroke-width="0.7"/>
<rect x="228.23" y="255.65" width="2.9" height="2.5" fill="#5a1496" stroke="#200040" stroke-width="0.7"/>
<rect x="231.66" y="295.85" width="2.9" height="2.5" fill="#5a1496" stroke="#200040" stroke-width="0.7"/>
<rect x="235.09" y="312.05" width="2.9" height="2.5" fill="#5a1496" stroke="#200040" stroke-width="0.7"/>
<rect x="238.52" y="298.95" width="2.9" height="2.5" fill="#6e1070" stroke="#200040" stroke-width="0.7"/>
<rect x="241.95" y="254.25" width="2.9" height="2.5" fill="#5a1496" stroke="#200040" stroke-width="0.7"/>
<rect x="245.38" y="291.65" width="2.9" height="2.5" fill="#5a1496" stroke="#200040" stroke-width="0.7"/>
<rect x="248.81" y="291.45" width="2.9" height="2.5" fill="#5a1496" stroke="#200040" stroke-width="0.7"/>
<rect x="252.24" y="239.75" width="2.9" height="2.5" fill="#5a1496" stroke="#200040" stroke-width="0.7"/>
<rect x="255.67" y="277.85" width="2.9" height="2.5" fill="#6a10e6" stroke="#200040" stroke-width="0.7"/>
<rect x="259.10" y="271.05" width="2.9" height="2.5" fill="#6a10e6" stroke="#200040" stroke-width="0.7"/>
<rect x="262.54" y="316.75" width="2.9" height="2.5" fill="#6e1070" stroke="#200040" stroke-width="0.7"/>
<rect x="265.97" y="297.45" width="2.9" height="2.5" fill="#6e1070" stroke="#200040" stroke-width="0.7"/>
<rect x="269.40" y="274.95" width="2.9" height="2.5" fill="#6a10e6" stroke="#200040" stroke-width="0.7"/>
<rect x="272.83" y="263.25" width="2.9" height="2.5" fill="#6a10e6" stroke="#200040" stroke-width="0.7"/>
<rect x="276.26" y="268.75" width="2.9" height="2.5" fill="#6a10e6" stroke="#200040" stroke-width="0.7"/>
<rect x="279.69" y="270.05" width="2.9" height="2.5" fill="#6a10e6" stroke="#200040" stroke-width="0.7"/>
<rect x="283.12" y="283.05" width="2.9" height="2.5" fill="#5a1496" stroke="#200040" stroke-width="0.7"/>
<rect x="286.55" y="293.55" width="2.9" height="2.5" fill="#6e1070" stroke="#200040" stroke-width="0.7"/>
<rect x="289.98" y="280.95" width="2.9" height="2.5" fill="#5a1496" stroke="#200040" stroke-width="0.7"/>
<rect x="293.41" y="267.95" width="2.9" height="2.5" fill="#5a1496" stroke="#200040" stroke-width="0.7"/>
<rect x="296.85" y="282.25" width="2.9" height="2.5" fill="#5a1496" stroke="#200040" stroke-width="0.7"/>
<rect x="300.28" y="274.95" width="2.9" height="2.5" fill="#5a1496" stroke="#200040" stroke-width="0.7"/>
<rect x="303.71" y="277.05" width="2.9" height="2.5" fill="#6a10e6" stroke="#200040" stroke-width="0.7"/>
<text x="460.30" y="206.00" font-size="8.2" text-anchor="middle" fill="#1a1a1a" font-weight="bold" textLength="140" lengthAdjust="spacingAndGlyphs">Box-Cox Plot for Power Transforms</text>
<line x1="377.69" y1="357.20" x2="377.69" y2="361.20" stroke="#707070" stroke-width="1"/>
<text x="377.69" y="368.90" font-size="6.0" text-anchor="middle" fill="#1e1e1e" textLength="5.6" lengthAdjust="spacingAndGlyphs" stroke="#1e1e1e" stroke-width="0.12">-3</text>
<line x1="405.26" y1="357.20" x2="405.26" y2="361.20" stroke="#707070" stroke-width="1"/>
<text x="405.26" y="368.90" font-size="6.0" text-anchor="middle" fill="#1e1e1e" textLength="5.6" lengthAdjust="spacingAndGlyphs" stroke="#1e1e1e" stroke-width="0.12">-2</text>
<line x1="432.83" y1="357.20" x2="432.83" y2="361.20" stroke="#707070" stroke-width="1"/>
<text x="432.83" y="368.90" font-size="6.0" text-anchor="middle" fill="#1e1e1e" textLength="5.6" lengthAdjust="spacingAndGlyphs" stroke="#1e1e1e" stroke-width="0.12">-1</text>
<line x1="460.40" y1="357.20" x2="460.40" y2="361.20" stroke="#707070" stroke-width="1"/>
<text x="460.40" y="368.90" font-size="6.0" text-anchor="middle" fill="#1e1e1e" textLength="3.6" lengthAdjust="spacingAndGlyphs" stroke="#1e1e1e" stroke-width="0.12">0</text>
<line x1="487.97" y1="357.20" x2="487.97" y2="361.20" stroke="#707070" stroke-width="1"/>
<text x="487.97" y="368.90" font-size="6.0" text-anchor="middle" fill="#1e1e1e" textLength="3.6" lengthAdjust="spacingAndGlyphs" stroke="#1e1e1e" stroke-width="0.12">1</text>
<line x1="515.54" y1="357.20" x2="515.54" y2="361.20" stroke="#707070" stroke-width="1"/>
<text x="515.54" y="368.90" font-size="6.0" text-anchor="middle" fill="#1e1e1e" textLength="3.6" lengthAdjust="spacingAndGlyphs" stroke="#1e1e1e" stroke-width="0.12">2</text>
<line x1="543.11" y1="357.20" x2="543.11" y2="361.20" stroke="#707070" stroke-width="1"/>
<text x="543.11" y="368.90" font-size="6.0" text-anchor="middle" fill="#1e1e1e" textLength="3.6" lengthAdjust="spacingAndGlyphs" stroke="#1e1e1e" stroke-width="0.12">3</text>
<line x1="364.00" y1="349.50" x2="368.30" y2="349.50" stroke="#707070" stroke-width="1"/>
<text x="362.20" y="351.90" font-size="6.5" text-anchor="end" fill="#1e1e1e" textLength="9.0" lengthAdjust="spacingAndGlyphs" stroke="#1e1e1e" stroke-width="0.12">5.2</text>
<line x1="364.00" y1="322.76" x2="368.30" y2="322.76" stroke="#707070" stroke-width="1"/>
<text x="362.20" y="325.16" font-size="6.5" text-anchor="end" fill="#1e1e1e" textLength="9.0" lengthAdjust="spacingAndGlyphs" stroke="#1e1e1e" stroke-width="0.12">5.4</text>
<line x1="364.00" y1="296.02" x2="368.30" y2="296.02" stroke="#707070" stroke-width="1"/>
<text x="362.20" y="298.42" font-size="6.5" text-anchor="end" fill="#1e1e1e" textLength="9.0" lengthAdjust="spacingAndGlyphs" stroke="#1e1e1e" stroke-width="0.12">5.6</text>
<line x1="364.00" y1="269.28" x2="368.30" y2="269.28" stroke="#707070" stroke-width="1"/>
<text x="362.20" y="271.68" font-size="6.5" text-anchor="end" fill="#1e1e1e" textLength="9.0" lengthAdjust="spacingAndGlyphs" stroke="#1e1e1e" stroke-width="0.12">5.8</text>
<line x1="364.00" y1="242.54" x2="368.30" y2="242.54" stroke="#707070" stroke-width="1"/>
<text x="362.20" y="244.94" font-size="6.5" text-anchor="end" fill="#1e1e1e" textLength="3.6" lengthAdjust="spacingAndGlyphs" stroke="#1e1e1e" stroke-width="0.12">6</text>
<line x1="364.00" y1="215.80" x2="368.30" y2="215.80" stroke="#707070" stroke-width="1"/>
<text x="362.20" y="218.20" font-size="6.5" text-anchor="end" fill="#1e1e1e" textLength="9.0" lengthAdjust="spacingAndGlyphs" stroke="#1e1e1e" stroke-width="0.12">6.2</text>
<text x="460.35" y="381.40" font-size="7.5" text-anchor="middle" fill="#222" textLength="32.9" lengthAdjust="spacingAndGlyphs">Lambda</text>
<text x="346.00" y="282.20" font-size="8.0" text-anchor="middle" fill="#222" textLength="54.8" lengthAdjust="spacingAndGlyphs" transform="rotate(-90 346.00 282.20)">Ln(ResidualSS)</text>
<polyline points="377.80,220.99 379.89,224.86 381.99,228.73 384.08,232.57 386.18,236.40 388.27,240.20 390.37,243.98 392.46,247.72 394.56,251.42 396.65,255.08 398.75,258.69 400.84,262.24 402.94,265.74 405.03,269.18 407.13,272.56 409.22,275.86 411.32,279.10 413.41,282.26 415.51,285.34 417.60,288.34 419.70,291.25 421.79,294.08 423.89,296.82 425.98,299.46 428.08,302.01 430.17,304.47 432.27,306.82 434.36,309.07 436.46,311.22 438.55,313.27 440.65,315.20 442.74,317.03 444.84,318.76 446.93,320.37 449.03,321.87 451.12,323.26 453.22,324.54 455.31,325.70 457.41,326.75 459.50,327.69 461.60,328.52 463.69,329.23 465.79,329.83 467.88,330.31 469.98,330.69 472.07,330.95 474.17,331.10 476.26,331.15 478.36,331.08 480.45,330.91 482.55,330.64 484.64,330.25 486.74,329.77 488.83,329.19 490.93,328.50 493.02,327.73 495.12,326.85 497.21,325.89 499.31,324.84 501.40,323.70 503.50,322.48 505.59,321.18 507.69,319.80 509.78,318.34 511.88,316.82 513.97,315.23 516.07,313.58 518.16,311.87 520.26,310.11 522.35,308.29 524.45,306.43 526.54,304.53 528.64,302.59 530.73,300.61 532.83,298.61 534.92,296.59 537.02,294.55 539.11,292.50 541.21,290.45 543.30,288.39" fill="none" stroke="#333" stroke-width="0.9"/>
<line x1="368.30" y1="312.09" x2="552.60" y2="312.09" stroke="#d2d2d2" stroke-width="1.7"/>
<text x="371.60" y="309.80" font-size="7.6" text-anchor="start" fill="#222" textLength="28.6" lengthAdjust="spacingAndGlyphs">5.48282</text>
<line x1="435.50" y1="311.69" x2="435.50" y2="357.20" stroke="#e4aaaa" stroke-width="0.9"/>
<line x1="518.50" y1="311.69" x2="518.50" y2="357.20" stroke="#e4aaaa" stroke-width="0.9"/>
<line x1="488.50" y1="329.29" x2="488.50" y2="357.20" stroke="#3040a8" stroke-width="0.9"/>
<line x1="474.50" y1="208.20" x2="474.50" y2="357.20" stroke="#98be98" stroke-width="1.1"/>
<line x1="475.60" y1="208.20" x2="475.60" y2="357.20" stroke="#9a9a9a" stroke-width="0.9"/>
<rect x="368.30" y="208.20" width="184.30" height="149.00" fill="none" stroke="#5c5c5c" stroke-width="1"/>
<text x="395.2" y="228.3" font-size="15.2" font-weight="bold" fill="#f00000" style='font-family:"Liberation Serif", serif'>e</text>
</svg>
</body></html>
